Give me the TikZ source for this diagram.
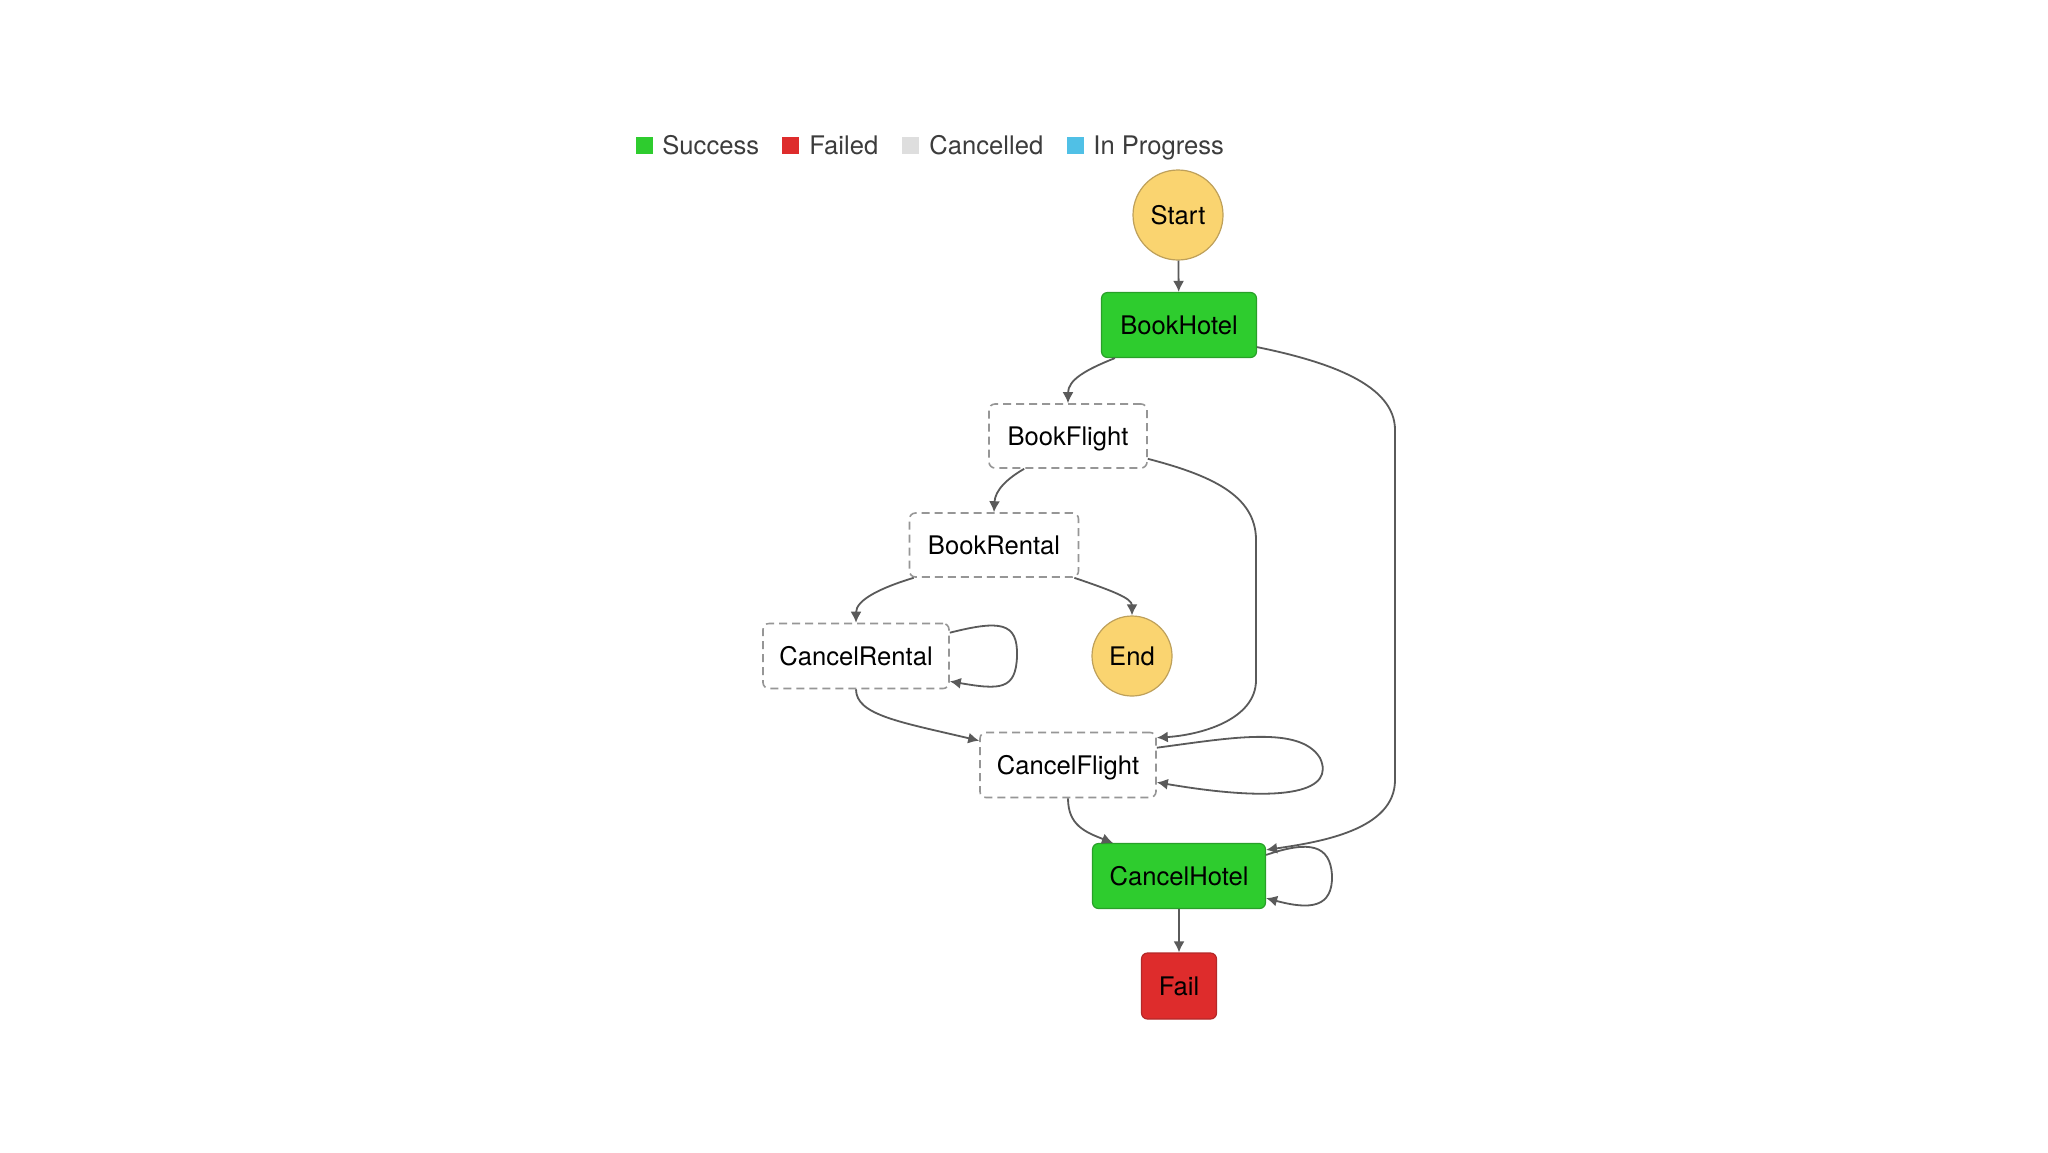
\documentclass[tikz,border=0pt]{standalone}
\usepackage{fontspec}
\setmainfont{TeX Gyre Heros}
\usetikzlibrary{arrows.meta,calc}
\definecolor{okgreen}{RGB}{46,204,46}
\definecolor{okgreenb}{RGB}{40,160,40}
\definecolor{failred}{RGB}{222,44,44}
\definecolor{failredb}{RGB}{180,40,40}
\definecolor{termyel}{RGB}{250,212,112}
\definecolor{termyelb}{RGB}{190,160,90}
\definecolor{dashgrey}{RGB}{150,150,150}
\definecolor{edgegrey}{RGB}{90,90,90}
\definecolor{legtext}{RGB}{60,60,60}
\definecolor{leggrey}{RGB}{222,222,222}
\definecolor{legblue}{RGB}{80,192,230}
\tikzset{
  lbl/.style={font=\fontsize{12.8}{15}\selectfont, text height=9.3pt, text depth=0pt},
  okbox/.style={lbl, rectangle, rounded corners=3pt, fill=okgreen, draw=okgreenb, line width=0.6pt, inner sep=0pt},
  failbox/.style={lbl, rectangle, rounded corners=3pt, fill=failred, draw=failredb, line width=0.6pt, inner sep=0pt},
  cancbox/.style={lbl, rectangle, rounded corners=3pt, fill=white, draw=dashgrey, line width=0.8pt, dash pattern=on 4pt off 2.5pt, inner sep=0pt},
  termnode/.style={lbl, circle, fill=termyel, draw=termyelb, line width=0.6pt, inner sep=0pt},
  legsq/.style={rectangle, minimum size=8.5pt, inner sep=0pt},
  legtx/.style={lbl, text=legtext, anchor=west, inner sep=0pt},
  edge/.style={draw=edgegrey, line width=0.9pt, -{Latex[length=5.5pt,width=5.5pt]}}
}
\begin{document}
\begin{tikzpicture}[x=0.5pt,y=-0.5pt]
\useasboundingbox[fill=white] (0,0) rectangle (2048,1152);
% legend
\node[legsq, fill=okgreen] (lg1) at (644,145) {};
\node[legtx] (lt1) at (662,145) {Success};
\node[legsq, fill=failred] (lg2) at (790,145) {};
\node[legtx] (lt2) at (809,145) {Failed};
\node[legsq, fill=leggrey] (lg3) at (910,145) {};
\node[legtx] (lt3) at (929,145) {Cancelled};
\node[legsq, fill=legblue] (lg4) at (1075,145) {};
\node[legtx] (lt4) at (1093,145) {In Progress};
% states
\node[termnode, minimum size=45pt] (start) at (1178,215) {Start};
\node[okbox, minimum width=77.5pt, minimum height=32.5pt] (bookhotel) at (1179,325) {BookHotel};
\node[cancbox, minimum width=79pt, minimum height=32pt] (bookflight) at (1068,436) {BookFlight};
\node[cancbox, minimum width=84.5pt, minimum height=32pt] (bookrental) at (994,545) {BookRental};
\node[cancbox, minimum width=93pt, minimum height=32.5pt] (cancelrental) at (856,656) {CancelRental};
\node[termnode, minimum size=40pt] (end) at (1132,656) {End};
\node[cancbox, minimum width=88pt, minimum height=32.5pt] (cancelflight) at (1068,765) {CancelFlight};
\node[okbox, minimum width=86.5pt, minimum height=32.5pt] (cancelhotel) at (1179,876) {CancelHotel};
\node[failbox, minimum width=37.5pt, minimum height=33pt] (fail) at (1179,986) {Fail};
% edges
\draw[edge] (start) -- (bookhotel);
\draw[edge] ($(bookhotel.south west)+(14,0)$) .. controls (1085,370) and (1068,380) .. (bookflight.north);
\draw[edge] ($(bookhotel.south east)+(0,-11)$) .. controls (1330,362) and (1395,385) .. (1395,430) -- (1395,780) .. controls (1395,830) and (1320,842) .. ($(cancelhotel.north east)+(0,7)$);
\draw[edge] ($(bookflight.south west)+(36,0)$) .. controls (1008,478) and (995,490) .. (bookrental.north);
\draw[edge] ($(bookflight.south east)+(0,-10)$) .. controls (1210,475) and (1256,495) .. (1256,540) -- (1256,680) .. controls (1256,720) and (1200,735) .. ($(cancelflight.north east)+(0,6)$);
\draw[edge] ($(bookrental.south west)+(5,0)$) .. controls (880,588) and (856,600) .. (cancelrental.north);
\draw[edge] ($(bookrental.south east)+(-5,0)$) .. controls (1110,590) and (1132,598) .. (end.north);
\draw[edge] ($(cancelrental.north east)+(0,10)$) .. controls (1000,620) and (1018,622) .. (1017,656) .. controls (1016,690) and (1000,690) .. ($(cancelrental.south east)+(0,-8)$);
\draw[edge] (cancelrental.south) .. controls (856,715) and (900,722) .. ($(cancelflight.north west)+(0,9)$);
\draw[edge] ($(cancelflight.north east)+(0,16)$) .. controls (1230,738) and (1300,725) .. (1320,758) .. controls (1335,790) and (1290,805) .. ($(cancelflight.south east)+(0,-16)$);
\draw[edge] (cancelflight.south) .. controls (1068,825) and (1085,832) .. ($(cancelhotel.north west)+(21,0)$);
\draw[edge] ($(cancelhotel.north east)+(0,12)$) .. controls (1310,840) and (1330,845) .. (1332,875) .. controls (1333,908) and (1310,910) .. ($(cancelhotel.south east)+(0,-11)$);
\draw[edge] (cancelhotel) -- (fail);
\end{tikzpicture}
\end{document}
